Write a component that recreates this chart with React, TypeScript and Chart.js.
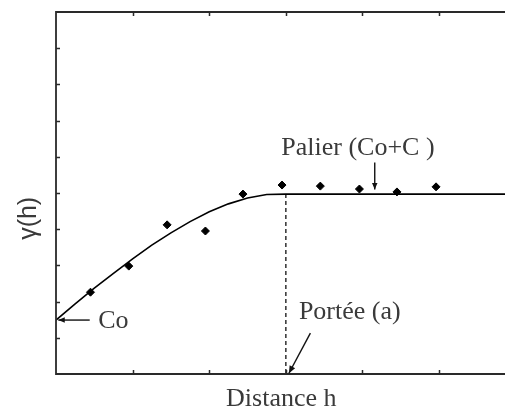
import React, { useEffect, useRef } from "react";
import { Chart, registerables } from "chart.js";

Chart.register(...registerables);

// Experimental variogram points (distance h, gamma)
const pointH = [0.45, 0.95, 1.45, 1.95, 2.44, 2.95, 3.45, 3.96, 4.45, 4.96];
const pointG = [2.26, 2.98, 4.12, 3.95, 4.97, 5.22, 5.19, 5.11, 5.03, 5.17];

// Fitted model curve
const modelH = [0, 0.25, 0.5, 0.75, 1, 1.25, 1.5, 1.75, 2, 2.25, 2.5, 2.75, 3, 5.86];
const modelG = [1.49, 1.94, 2.37, 2.78, 3.18, 3.56, 3.9, 4.21, 4.48, 4.7, 4.86, 4.96, 4.97, 4.97];

// Range (portée) marker
const rangeH = [3, 3];
const rangeG = [4.97, 0];

const xTicks = [1, 2, 3, 4, 5];
const yTicks = [1, 2, 3, 4, 5, 6, 7, 8, 9];

const X_MAX = 5.86;
const Y_MAX = 10;

const SERIF = "'Liberation Serif', 'Times New Roman', serif";
const SANS = "'Liberation Sans', Arial, sans-serif";

function arrow(ctx: CanvasRenderingContext2D, x1: number, y1: number, x2: number, y2: number, head: number) {
  ctx.beginPath();
  ctx.moveTo(x1, y1);
  ctx.lineTo(x2, y2);
  ctx.stroke();
  const ang = Math.atan2(y2 - y1, x2 - x1);
  ctx.beginPath();
  ctx.moveTo(x2, y2);
  ctx.lineTo(x2 - head * Math.cos(ang - 0.4), y2 - head * Math.sin(ang - 0.4));
  ctx.lineTo(x2 - head * Math.cos(ang + 0.4), y2 - head * Math.sin(ang + 0.4));
  ctx.closePath();
  ctx.fill();
}

const decor = {
  id: "decor",
  afterDatasetsDraw(chart: any) {
    const ctx: CanvasRenderingContext2D = chart.ctx;
    const xs = chart.scales.x;
    const ys = chart.scales.y;
    const px = (v: number) => xs.getPixelForValue(v);
    const py = (v: number) => ys.getPixelForValue(v);
    const L = px(0), R = px(X_MAX), T = py(Y_MAX), B = py(0);
    ctx.save();
    // frame (left, top, bottom)
    ctx.strokeStyle = "#2a2a2a";
    ctx.lineWidth = 1.8;
    ctx.beginPath();
    ctx.moveTo(R, T);
    ctx.lineTo(L, T);
    ctx.lineTo(L, B);
    ctx.lineTo(R, B);
    ctx.stroke();
    // inward ticks
    ctx.lineWidth = 1.5;
    ctx.beginPath();
    for (const v of yTicks) {
      const yy = Math.round(py(v)) + 0.5;
      ctx.moveTo(L, yy);
      ctx.lineTo(L + 4, yy);
    }
    for (const v of xTicks) {
      const xx = Math.round(px(v)) + 0.5;
      ctx.moveTo(xx, T);
      ctx.lineTo(xx, T + 4);
      ctx.moveTo(xx, B);
      ctx.lineTo(xx, B - 4);
    }
    ctx.stroke();

    // annotation arrows
    ctx.strokeStyle = "#111";
    ctx.fillStyle = "#111";
    ctx.lineWidth = 1.4;
    arrow(ctx, px(0.44), py(1.49), px(0.03), py(1.49), 7);
    arrow(ctx, px(4.16), py(5.84), px(4.16), py(5.1), 7);
    arrow(ctx, px(3.32), py(1.13), px(3.04), py(0.02), 8);

    // texts
    ctx.fillStyle = "#3a3a3a";
    ctx.font = `26px ${SERIF}`;
    ctx.textBaseline = "alphabetic";
    ctx.textAlign = "left";
    ctx.fillText("Co", px(0.55), py(1.27));
    ctx.fillText("Portée (a)", px(3.17), py(1.52));
    ctx.textAlign = "center";
    ctx.fillText("Palier (Co+C )", px(3.94), py(6.05));
    ctx.fillText("Distance h", px(2.94), B + 32);

    ctx.font = `25px ${SANS}`;
    ctx.translate(L - 27, py(4.3));
    ctx.rotate(-Math.PI / 2);
    ctx.textAlign = "center";
    ctx.textBaseline = "middle";
    ctx.fillText("γ(h)", 0, 0);
    ctx.restore();
  },
};

export default function App() {
  const ref = useRef<HTMLCanvasElement | null>(null);
  useEffect(() => {
    if (!ref.current) return;
    const chart = new Chart(ref.current, {
      type: "scatter",
      data: {
        datasets: [
          {
            type: "line",
            label: "Modèle",
            data: modelH.map((h, i) => ({ x: h, y: modelG[i] })),
            borderColor: "#000",
            borderWidth: 1.6,
            pointRadius: 0,
            tension: 0,
            fill: false,
          },
          {
            type: "line",
            label: "Portée",
            data: rangeH.map((h, i) => ({ x: h, y: rangeG[i] })),
            borderColor: "#111",
            borderWidth: 1.3,
            borderDash: [4, 3],
            pointRadius: 0,
            fill: false,
          },
          {
            label: "Variogramme expérimental",
            data: pointH.map((h, i) => ({ x: h, y: pointG[i] })),
            pointStyle: "rectRot",
            pointRadius: 4,
            backgroundColor: "#000",
            borderColor: "#000",
            borderWidth: 1,
          },
        ],
      } as any,
      options: {
        responsive: false,
        animation: false,
        devicePixelRatio: 1,
        layout: { autoPadding: false, padding: { left: 56, top: 12, right: 0, bottom: 35 } },
        plugins: { legend: { display: false }, tooltip: { enabled: false } },
        scales: {
          x: { type: "linear", min: 0, max: X_MAX, display: false },
          y: { type: "linear", min: 0, max: Y_MAX, display: false },
        },
      },
      plugins: [decor],
    });
    return () => chart.destroy();
  }, []);
  return (
    <div style={{ position: "absolute", left: 0, top: 0, width: 505, height: 409, background: "#fff" }}>
      <canvas ref={ref} width={505} height={409} style={{ display: "block" }} />
    </div>
  );
}
